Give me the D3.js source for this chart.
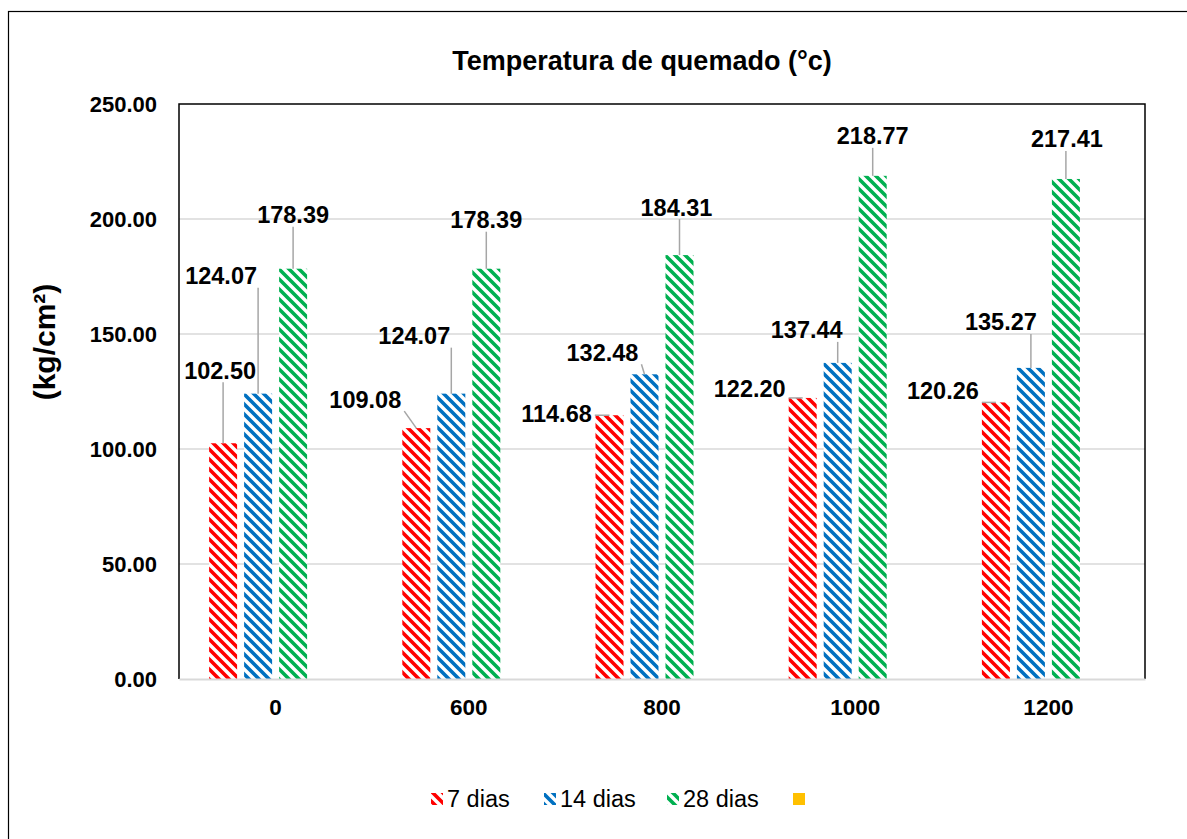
<!DOCTYPE html>
<html>
<head>
<meta charset="utf-8">
<script src="https://cdn.jsdelivr.net/npm/d3@7"></script>
<style>
  body { margin: 0; background: #fff; }
  text { font-family: Arial, "Liberation Sans", sans-serif; }
</style>
</head>
<body>
<div class="container"><svg width="1187" height="839"></svg></div>
<script>
// chart values
var categories = ["0", "600", "800", "1000", "1200"];
var seriesNames = ["7 dias", "14 dias", "28 dias", ""];
var dias7 = [102.50, 109.08, 114.68, 122.20, 120.26];
var dias14 = [124.07, 124.07, 132.48, 137.44, 135.27];
var dias28 = [178.39, 178.39, 184.31, 218.77, 217.41];
var serie4 = [];
var yTicks = [0, 50, 100, 150, 200, 250];

var seriesValues = [dias7, dias14, dias28, serie4];
var colors = ["#ff0000", "#0070c0", "#00b050", "#ffc000"];

// where each data label sits, relative to its bar top (dx, dy)
var labelOffsets = [
    [[-3, -73], [-51, -29], [-53, -2], [-53, -9], [-53, -12]],
    [[-37, -118], [-37, -58], [-42, -22], [-31, -33], [-30, -46]],
    [[0, -54], [0, -49], [-3, -48], [0, -40], [1, -40]]
];

var svg = d3.select(".container").select("svg");
var margin = {left: 179, top: 104, right: 1145, bottom: 679};

// outer chart border
svg.append("rect")
    .attr("x", 8.5).attr("y", 11.5)
    .attr("width", 1200).attr("height", 850)
    .attr("fill", "#fff")
    .attr("stroke", "#000")
    .attr("stroke-width", 1.2);

// stripe patterns (wide downward diagonal)
var defs = svg.append("defs");
colors.forEach(function (c, i) {
    var p = defs.append("pattern")
        .attr("id", "stripe" + i)
        .attr("patternUnits", "userSpaceOnUse")
        .attr("width", 10).attr("height", 10);
    p.append("rect").attr("width", 10).attr("height", 10).attr("fill", "#fff");
    p.append("path")
        .attr("d", "M-2,-2L12,12M-7,3L7,17M3,-7L17,7")
        .attr("stroke", c)
        .attr("stroke-width", 3.6);
});

var x = d3.scaleBand()
    .domain(categories)
    .range([margin.left, margin.right]);

var xSub = d3.scaleBand()
    .domain(d3.range(seriesNames.length))
    .range([-70, 70]);

var y = d3.scaleLinear()
    .domain([0, 250])
    .range([margin.bottom, margin.top]);

// gridlines
svg.append("g")
    .selectAll("line")
    .data(yTicks.slice(1, -1))
    .enter().append("line")
    .attr("x1", margin.left).attr("x2", margin.right)
    .attr("y1", function (d) { return y(d); })
    .attr("y2", function (d) { return y(d); })
    .attr("stroke", "#d9d9d9")
    .attr("stroke-width", 1.5);

// plot area border
svg.append("path")
    .attr("d", "M" + margin.left + "," + margin.bottom + "V" + margin.top + "H" + margin.right + "V" + margin.bottom)
    .attr("fill", "none")
    .attr("stroke", "#000")
    .attr("stroke-width", 1.5);

// y axis labels
var yAxis = d3.axisLeft(y)
    .tickValues(yTicks)
    .tickSize(0)
    .tickPadding(22)
    .tickFormat(d3.format(".2f"));
var yg = svg.append("g")
    .attr("transform", "translate(" + margin.left + ",0)")
    .call(yAxis);
yg.select(".domain").remove();
yg.selectAll("text")
    .attr("font-size", "22px")
    .attr("font-weight", "bold")
    .attr("fill", "#000");

// bars
var barW = 28;
seriesValues.forEach(function (vals, s) {
    svg.append("g")
        .selectAll("rect")
        .data(vals)
        .enter().append("rect")
        .attr("x", function (d, i) { return x(categories[i]) + x.bandwidth() / 2 + xSub(s) + xSub.bandwidth() / 2 - barW / 2; })
        .attr("y", function (d) { return y(d); })
        .attr("width", barW)
        .attr("height", function (d) { return y(0) - y(d); })
        .attr("fill", "url(#stripe" + s + ")");
});

// x axis
var xAxis = d3.axisBottom(x).tickSize(0).tickPadding(20);
var xg = svg.append("g")
    .attr("transform", "translate(0," + margin.bottom + ")")
    .call(xAxis);
xg.select(".domain")
    .attr("stroke", "#d9d9d9")
    .attr("stroke-width", 2);
xg.selectAll("text")
    .attr("font-size", "22.5px")
    .attr("font-weight", "bold")
    .attr("fill", "#000");

// data labels with leader lines
var fmt = d3.format(".2f");
var labelG = svg.append("g");
var leaderG = svg.append("g");
seriesValues.slice(0, 3).forEach(function (vals, s) {
    vals.forEach(function (v, i) {
        var bx = x(categories[i]) + x.bandwidth() / 2 + xSub(s) + xSub.bandwidth() / 2;
        var by = y(v);
        var lx = bx + labelOffsets[s][i][0];
        var ly = by + labelOffsets[s][i][1];
        var t = labelG.append("text")
            .attr("x", lx)
            .attr("y", ly)
            .attr("dy", "0.36em")
            .attr("text-anchor", "middle")
            .attr("font-size", "23.5px")
            .attr("font-weight", "bold")
            .attr("fill", "#000")
            .text(fmt(v));
        var w = t.node().getComputedTextLength();
        // nearest point of the label box to the bar top
        var x0 = lx - w / 2 - 3, x1 = lx + w / 2 + 3;
        var y0 = ly - 12, y1 = ly + 12;
        var px = Math.max(x0, Math.min(x1, bx));
        var py = Math.max(y0, Math.min(y1, by));
        if (Math.hypot(px - bx, py - by) > 6) {
            leaderG.append("line")
                .attr("x1", px).attr("y1", py)
                .attr("x2", bx).attr("y2", by)
                .attr("stroke", "#a6a6a6")
                .attr("stroke-width", 1.5);
        }
    });
});

// title
svg.append("text")
    .attr("x", 642)
    .attr("y", 70)
    .attr("text-anchor", "middle")
    .attr("font-size", "27px")
    .attr("font-weight", "bold")
    .text("Temperatura de quemado (°c)");

// y axis title
svg.append("text")
    .attr("transform", "translate(55,342) rotate(-90)")
    .attr("text-anchor", "middle")
    .attr("font-size", "30px")
    .attr("font-weight", "bold")
    .text("(kg/cm²)");

// legend
var legendX = [431, 544, 667, 793];
var legend = svg.append("g");
seriesNames.forEach(function (name, s) {
    legend.append("rect")
        .attr("x", legendX[s])
        .attr("y", 793)
        .attr("width", 12)
        .attr("height", 12)
        .attr("fill", s < 3 ? "url(#stripe" + s + ")" : colors[s]);
    legend.append("text")
        .attr("x", legendX[s] + 16)
        .attr("y", 807)
        .attr("font-size", "23.5px")
        .attr("fill", "#000")
        .text(name);
});
</script>
</body>
</html>
